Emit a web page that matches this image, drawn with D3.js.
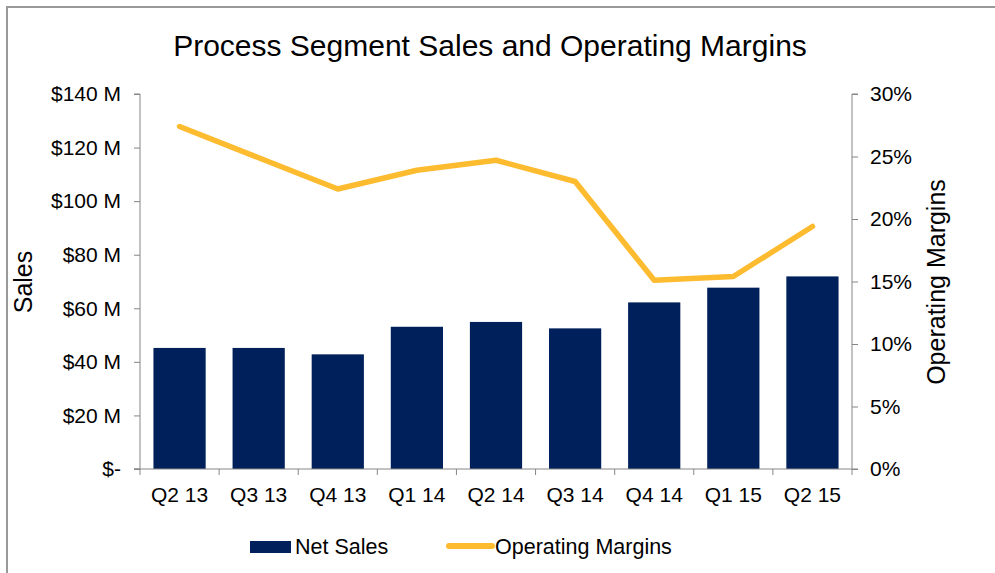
<!DOCTYPE html>
<html>
<head>
<meta charset="utf-8">
<script src="https://cdn.jsdelivr.net/npm/d3@7"></script>
<style>
  body { margin: 0; background: #fff; }
  svg text { font-family: Arial, "Liberation Sans", sans-serif; fill: #000; }
  .axis path, .axis line { stroke: #868686; }
</style>
</head>
<body>
<div id="chart"></div>
<script>
const width = 995,
    height = 573

// data
var quarters = ["Q2 13", "Q3 13", "Q4 13", "Q1 14", "Q2 14", "Q3 14", "Q4 14", "Q1 15", "Q2 15"]
var netSales = [45.2, 45.2, 42.8, 53.1, 54.9, 52.5, 62.2, 67.7, 71.9]
var margins = [27.4, 24.9, 22.4, 23.9, 24.7, 23.0, 15.1, 15.4, 19.4]
var salesTicks = [0, 20, 40, 60, 80, 100, 120, 140]
var marginTicks = [0, 5, 10, 15, 20, 25, 30]

var navy = "#00205b",
    gold = "#fdbb30"

var svg = d3.select("#chart")
    .append("svg")
    .attr("width", width)
    .attr("height", height)

// outer frame (only left and top edges show)
svg.append("rect")
    .attr("x", 7)
    .attr("y", 7)
    .attr("width", 1100)
    .attr("height", 700)
    .attr("fill", "none")
    .attr("stroke", "#999")
    .attr("stroke-width", 2)

var plot = {left: 140, right: 852, top: 94, bottom: 469}

var x = d3.scaleBand()
    .domain(quarters)
    .range([plot.left, plot.right])
    .paddingInner(0.34)
    .paddingOuter(0.17)

var xCat = d3.scaleBand()
    .domain(quarters)
    .range([plot.left, plot.right])

var ySales = d3.scaleLinear().domain([0, 140]).range([plot.bottom, plot.top])
var yMargin = d3.scaleLinear().domain([0, 30]).range([plot.bottom, plot.top])

svg.append("text")
    .attr("x", 490)
    .attr("y", 56)
    .attr("text-anchor", "middle")
    .attr("font-size", 30)
    .text("Process Segment Sales and Operating Margins")

// bars
svg.append("g")
    .selectAll("rect")
    .data(netSales)
    .enter()
    .append("rect")
    .attr("x", (d, i) => x(quarters[i]))
    .attr("y", d => ySales(d))
    .attr("width", x.bandwidth())
    .attr("height", d => ySales(0) - ySales(d))
    .attr("fill", navy)

// left axis
var leftAxis = svg.append("g")
    .attr("class", "axis")
    .attr("transform", `translate(${plot.left},0)`)
    .call(d3.axisLeft(ySales)
        .tickValues(salesTicks)
        .tickSize(6)
        .tickPadding(13)
        .tickFormat(d => d === 0 ? "$-" : `$${d} M`))
leftAxis.selectAll("text").attr("font-size", 21).attr("font-family", "Arial, 'Liberation Sans', sans-serif").attr("fill", "#000")
leftAxis.select(".domain").attr("d", `M-6,${plot.top}H0V${plot.bottom}H-6`)

// right axis
var rightAxis = svg.append("g")
    .attr("class", "axis")
    .attr("transform", `translate(${plot.right},0)`)
    .call(d3.axisRight(yMargin)
        .tickValues(marginTicks)
        .tickSize(6)
        .tickPadding(12)
        .tickFormat(d => d + "%"))
rightAxis.selectAll("text").attr("font-size", 21).attr("font-family", "Arial, 'Liberation Sans', sans-serif").attr("fill", "#000")
rightAxis.select(".domain").attr("d", `M6,${plot.top}H0V${plot.bottom}H6`)

// bottom axis: ticks at category boundaries
var bottom = svg.append("g")
    .attr("class", "axis")
    .attr("transform", `translate(0,${plot.bottom})`)
bottom.append("line")
    .attr("x1", plot.left - 6)
    .attr("x2", plot.right)
    .attr("stroke", "#868686")
bottom.selectAll(".tk")
    .data(quarters.concat([null]))
    .enter()
    .append("line")
    .attr("x1", (d, i) => plot.left + i * xCat.step())
    .attr("x2", (d, i) => plot.left + i * xCat.step())
    .attr("y1", 0)
    .attr("y2", 6)
    .attr("stroke", "#868686")
bottom.selectAll("text")
    .data(quarters)
    .enter()
    .append("text")
    .attr("x", d => xCat(d) + xCat.bandwidth() / 2)
    .attr("y", 33)
    .attr("text-anchor", "middle")
    .attr("font-size", 21)
    .text(d => d)

// margin line
var line = d3.line()
    .x((d, i) => x(quarters[i]) + x.bandwidth() / 2)
    .y(d => yMargin(d))

svg.append("path")
    .datum(margins)
    .attr("d", line)
    .attr("fill", "none")
    .attr("stroke", gold)
    .attr("stroke-width", 5.5)
    .attr("stroke-linecap", "round")
    .attr("stroke-linejoin", "round")

// axis titles
svg.append("text")
    .attr("transform", "translate(32,282) rotate(-90)")
    .attr("text-anchor", "middle")
    .attr("font-size", 25)
    .text("Sales")

svg.append("text")
    .attr("transform", "translate(945,282) rotate(-90)")
    .attr("text-anchor", "middle")
    .attr("font-size", 25)
    .text("Operating Margins")

// legend
var legend = svg.append("g")
legend.append("rect")
    .attr("x", 250)
    .attr("y", 541)
    .attr("width", 41)
    .attr("height", 12)
    .attr("fill", navy)
legend.append("text")
    .attr("x", 295)
    .attr("y", 554)
    .attr("font-size", 21.5)
    .text("Net Sales")
legend.append("line")
    .attr("x1", 449)
    .attr("x2", 492)
    .attr("y1", 546)
    .attr("y2", 546)
    .attr("stroke", gold)
    .attr("stroke-width", 6)
    .attr("stroke-linecap", "round")
legend.append("text")
    .attr("x", 495)
    .attr("y", 554)
    .attr("font-size", 21.5)
    .text("Operating Margins")
</script>
</body>
</html>
